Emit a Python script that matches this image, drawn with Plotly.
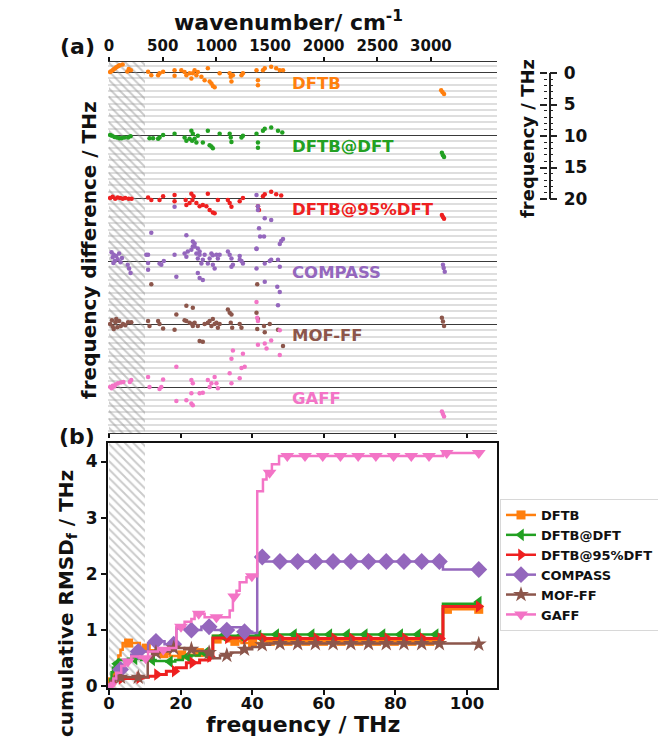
import numpy as np
import plotly.graph_objects as go

# the page keeps the browser's 8px body margin, so the figure is 16px smaller than the window
PAGE_W, PAGE_H = 666, 747
BODY_MARGIN = 8
W, H = PAGE_W - 2 * BODY_MARGIN, PAGE_H - 2 * BODY_MARGIN
FONT = "DejaVu Sans"
THZ_TO_CM = 33.356

METHODS = ["DFTB", "DFTB@DFT", "DFTB@95%DFT", "COMPASS", "MOF-FF", "GAFF"]
COLORS = ["#ff7f0e", "#22a022", "#ee2020", "#9467bd", "#8c564b", "#f374c6"]
SYMBOLS = ["square", "triangle-left", "triangle-right", "diamond", "star", "triangle-down"]
MSIZES = [9, 11, 11, 13, 12, 12]
OFFSET_STEP = 10          # THz between stacked baselines in panel (a)
HATCH_MAX = 10            # THz, hatched low-frequency region

# ---- panel (a): (frequency THz, frequency difference THz) per mode ----
DFTB_PTS = [(0.3, 0), (0.6, -0.15), (1.0, -0.3), (1.3, -0.45), (1.7, -0.6), (2.0, -0.75), (2.4, -0.9),
            (2.7, -1.0), (3.0, -1.1), (3.8, -1.2), (5.1, -0.1), (5.5, -0.5), (6.1, -0.3),
            (10.9, -0.05), (11.8, 0.5), (13.7, 0.5), (14.1, 0.2), (15.1, -0.05),
            (18.3, -0.3), (18.3, 0.6), (20.2, -0.3), (21.1, 0), (21.6, 0.5), (22.5, 0.2), (23.0, 1.0),
            (23.4, 0.2), (23.9, -0.3), (24.4, 0.5), (24.8, 0),
            (25.8, 0.75), (26.7, 1.3), (27.6, -0.6), (28.1, 1.5), (28.6, 1.8), (29.0, 2.2), (29.5, 2.4),
            (30.9, 0.2), (33.7, 0.2), (34.0, 0.75), (34.2, 1.5), (34.6, 0.5), (37.0, 0.5), (37.4, 0.2),
            (41.2, -0.3), (41.6, 1.3), (41.6, 2.1), (43.0, -0.3), (43.5, -0.6),
            (45.3, -0.85), (46.7, -0.6), (47.7, -0.3), (48.6, -0.3),
            (92.8, 2.9), (93.2, 3.2), (93.6, 3.5)]

DFTB_DFT_PTS = [(0.3, 0), (0.8, 0.1), (1.5, 0.3), (2.2, 0.4), (2.9, 0.5), (3.5, 0.5), (4.2, 0.4),
                (5.3, 0.4), (6.0, 0.2),
                (11.3, 0.5), (12.3, 0.5), (13.7, 0.6), (14.1, 0.4), (15.1, 0),
                (18.3, -0.2), (21.1, 0.4), (21.6, 0.9), (22.5, 0.6), (23.0, -0.7), (23.4, -0.2),
                (23.2, 0.9), (23.9, 0.6), (24.4, 1.2), (24.8, 0.1),
                (26.2, 1.2), (27.6, -0.7), (28.1, 1.6), (28.6, 1.8), (29.0, 2.1),
                (30.9, -0.2), (33.7, -0.2), (34.0, 0.4), (34.2, 1.1), (37.0, 0.4), (37.4, 0.1),
                (41.2, -0.2), (41.6, 1.2), (41.6, 2.0), (43.0, -0.7), (43.5, -1.0), (45.3, -1.2),
                (47.2, -0.7), (48.4, -0.4),
                (93.0, 2.8), (93.3, 3.2), (93.6, 3.5)]

DFTB_95_PTS = [(0.3, 0), (1.0, -0.2), (1.7, 0.1), (2.4, -0.1), (3.1, 0), (3.8, 0.1), (4.5, 0),
               (5.5, 0.1), (6.3, 0.1),
               (10.9, -0.1), (11.8, 0.3), (14.1, 0.3), (15.1, -0.3),
               (18.3, -0.5), (18.3, 0.5), (21.4, 0.3), (21.6, 1.1), (22.5, 0.8), (23.0, -0.7),
               (23.3, 0.3), (23.6, -0.3), (24.4, 0.8), (25.3, 1.3), (26.2, 1.1), (27.2, 1.3),
               (28.1, 1.9), (29.0, 2.3), (29.5, 2.4),
               (27.6, -0.7), (30.4, 0.3), (33.2, 0.3), (33.7, 0.8), (34.2, 1.4), (36.5, 0.5), (37.4, 0),
               (41.6, 1.3), (41.9, 1.9), (43.0, -0.3), (43.5, -0.6), (45.3, -1.0), (46.7, -0.6),
               (48.1, -0.4),
               (93.0, 2.7), (93.3, 3.0), (93.6, 3.3)]

COMPASS_PTS = [(0.7, -1.4), (1.0, -0.6), (1.3, -1.0), (1.6, 0.0), (2.0, -0.8), (2.4, -0.3),
               (2.8, -1.2), (3.2, 0.2), (3.6, -0.5), (1.2, 0.3),
               (5.2, 0.6), (5.6, 1.2), (6.0, 1.9),
               (10.9, -1.0), (10.9, 0.3), (10.9, 1.4), (10.4, -1.0), (11.8, -4.5),
               (14.1, 0.4), (14.6, 0.6), (15.3, 0.0),
               (18.3, -1.0), (18.8, 2.5), (18.3, -8.6),
               (21.1, -1.2), (21.6, -0.7), (22.0, -1.5), (23.0, -1.8), (23.4, -2.3), (23.9, -2.8),
               (24.4, -1.2), (24.8, -0.4), (25.3, -1.0), (25.8, 0.4), (26.2, -0.2), (26.7, -1.0),
               (24.8, 1.9), (25.3, 2.7), (26.2, 3.0), (21.6, -4.1), (23.4, -3.1), (23.9, -2.3),
               (24.8, -2.0), (25.3, -1.5),
               (27.6, 0.4), (28.1, -0.4), (28.6, -1.2), (29.0, 0.6), (29.5, 1.2), (30.0, -1.0),
               (30.4, -0.4), (30.9, -1.0), (29.0, -0.9),
               (33.2, -1.5), (33.7, -1.0), (34.2, -0.4), (34.2, 0.9), (34.6, 0.6), (36.5, -0.2),
               (37.0, 0.0), (37.4, 0.4), (36.5, -0.8),
               (41.2, -2.0), (41.2, 1.2), (43.5, 0.4), (43.5, 3.3), (44.9, 0.0), (45.3, -0.2),
               (47.2, -0.2), (47.7, 0.9), (47.0, 4.1), (47.7, 4.9), (47.2, 7.0),
               (41.2, -10.5), (41.6, -8.7), (41.6, -8.1), (43.5, -6.8), (45.3, -6.5), (41.9, -5.2),
               (42.2, -3.9), (43.3, -3.9), (48.1, -3.2), (47.7, -2.7), (48.6, -3.5), (41.2, -1.9),
               (93.3, 0.6), (93.5, 1.1), (93.8, 1.7)]

MOFFF_PTS = [(0.3, 0), (0.8, -0.6), (1.3, 0.8), (1.8, -0.3), (2.3, 0.5), (2.8, -0.5), (3.3, 0.3),
             (3.9, 0), (4.5, 0.2), (1.0, 0.4), (2.0, -0.8),
             (5.3, -0.3), (6.2, -0.3),
             (10.9, -0.5), (11.3, 0.3), (11.8, -6.3),
             (13.7, -0.5), (14.1, 0), (15.1, 0.7),
             (18.3, 0.9), (18.8, -1.5), (21.6, -2.9), (23.4, -2.6),
             (21.1, -0.6), (21.6, -0.5), (22.5, -0.2), (23.2, 0), (23.4, 0.3), (23.9, -0.2),
             (24.8, 0.3), (25.3, 2.7), (26.2, 2.8),
             (26.7, 0), (27.6, -0.2), (28.1, -0.5), (28.6, 0.3), (29.0, -0.8), (29.5, 0),
             (30.0, -0.2), (30.4, 0.6), (30.9, 0),
             (33.2, -2.3), (33.7, -1.8), (34.2, -1.5), (34.0, -0.2), (34.4, 0.6), (36.5, 0), (37.0, 0.6),
             (41.2, -1.8), (41.6, -0.8), (41.4, 0.8), (43.3, 0.3), (43.5, 1.3), (44.9, 0), (41.4, -6.3),
             (48.6, 3.5), (47.2, 0.9),
             (93.0, -1.0), (93.3, -0.4), (93.6, 0.3)]

GAFF_PTS = [(0.3, 0), (1.0, -0.2), (1.8, -0.4), (2.5, -0.6), (3.3, -0.7), (4.0, -0.8), (0.7, 0.2),
            (1.5, -0.1), (5.8, -0.8), (6.2, -1.1),
            (10.9, -1.6), (11.3, 0), (14.1, 0.3), (14.6, 0), (15.1, -1.2),
            (18.8, -3.2), (18.8, 2.2), (21.6, 2.1), (23.0, 2.6), (23.4, 2.9), (23.0, 1.0),
            (25.3, 1.0), (26.2, 0.9),
            (23.0, -1.1), (23.4, -0.6), (27.6, -1.1), (28.1, 0), (28.6, -0.6),
            (29.5, -1.6), (30.0, -0.6), (30.4, 0.2),
            (33.7, -2.2), (34.2, -0.6), (36.5, -1.4), (37.0, -3.0), (34.2, -4.5), (34.6, -5.8),
            (37.4, -5.3), (37.9, -3.2),
            (41.2, -13.5), (41.4, -11.0), (41.6, -10.5), (41.6, -6.7), (43.5, -6.9), (44.0, -6.1),
            (45.3, -7.4), (47.7, -9.0), (47.7, -5.1),
            (93.0, 3.9), (93.3, 4.3), (93.6, 4.7)]

POINTS = [DFTB_PTS, DFTB_DFT_PTS, DFTB_95_PTS, COMPASS_PTS, MOFFF_PTS, GAFF_PTS]

# ---- panel (b): cumulative RMSD step curves (breakpoints) ----
DFTB_CX = [0, 0.4, 0.9, 1.4, 2.0, 2.6, 3.2, 3.8, 8.6, 11.0, 14.0, 17.0, 20.0, 24.0, 29.0, 33.0, 37.0, 42.5, 93.3, 103.3]
DFTB_CY = [0, 0.08, 0.2, 0.3, 0.42, 0.55, 0.65, 0.77, 0.68, 0.64, 0.58, 0.54, 0.56, 0.6, 0.84, 0.8, 0.77, 0.8, 1.37, 1.37]
DFTB_DFT_CX = [0, 0.3, 0.7, 1.1, 1.6, 2.5, 5.3, 9.0, 13.0, 16.0, 18.5, 20.6, 23.0, 25.3, 27.0, 28.6, 29.0, 42.0, 93.3, 103.3]
DFTB_DFT_CY = [0, 0.12, 0.25, 0.33, 0.4, 0.47, 0.49, 0.47, 0.45, 0.44, 0.47, 0.53, 0.55, 0.59, 0.6, 0.62, 0.9, 0.92, 1.47, 1.5]
DFTB_95_CX = [0, 0.5, 1.6, 3.2, 7.0, 9.5, 11.0, 13.2, 16.0, 18.8, 21.6, 25.3, 28.1, 29.0, 42.0, 93.3, 103.3]
DFTB_95_CY = [0, 0.06, 0.12, 0.14, 0.15, 0.16, 0.18, 0.21, 0.27, 0.33, 0.42, 0.47, 0.53, 0.86, 0.85, 1.42, 1.42]
COMPASS_CX = [0, 0.5, 1.4, 3.0, 4.4, 6.2, 8.1, 10.9, 12.7, 15.5, 18.8, 22.0, 25.8, 29.5, 33.2, 37.0, 40.0, 41.4, 43.0, 93.3, 103.3]
COMPASS_CY = [0, 0.05, 0.12, 0.3, 0.47, 0.56, 0.62, 0.77, 0.8, 0.75, 1.03, 1.0, 1.06, 1.0, 1.05, 0.97, 0.95, 2.3, 2.22, 2.08, 2.08]
MOFFF_CX = [0, 0.6, 1.5, 10.8, 12.0, 14.0, 17.0, 21.0, 24.0, 27.0, 29.0, 31.0, 34.0, 37.0, 40.0, 42.0, 45.0, 103.3]
MOFFF_CY = [0, 0.1, 0.16, 0.5, 0.6, 0.62, 0.68, 0.66, 0.63, 0.6, 0.5, 0.55, 0.6, 0.66, 0.7, 0.74, 0.76, 0.75]
GAFF_CX = [0, 0.5, 1.2, 2.0, 3.4, 4.4, 6.2, 8.5, 10.9, 13.7, 16.9, 18.8, 21.1, 23.0, 23.9, 26.7, 33.7, 34.6,
           35.6, 36.5, 38.4, 39.8, 41.4, 43.0, 44.0, 45.5, 47.5, 93.3, 103.3]
GAFF_CY = [0, 0.06, 0.14, 0.24, 0.36, 0.44, 0.53, 0.5, 0.62, 0.65, 0.68, 1.06, 1.15, 1.2, 1.29, 1.23, 1.35, 1.6,
           1.7, 1.85, 1.94, 1.96, 3.47, 3.68, 3.8, 3.95, 4.1, 4.15, 4.15]
CURVES_X = [DFTB_CX, DFTB_DFT_CX, DFTB_95_CX, COMPASS_CX, MOFFF_CX, GAFF_CX]
CURVES_Y = [DFTB_CY, DFTB_DFT_CY, DFTB_95_CY, COMPASS_CY, MOFFF_CY, GAFF_CY]
MARK_START = [0.5, 2.15, 3.5, 3.2, 3.2, 0.3]   # first marker (markevery-like)
MARK_EVERY = 4.95

WAVE_TICKS = [0, 500, 1000, 1500, 2000, 2500, 3000]
FREQ_TICKS = [0, 20, 40, 60, 80, 100]
RMSD_TICKS = [0, 1, 2, 3, 4]
SCALE_TICKS = [0, 5, 10, 15, 20]

XR = [-0.3, 108.4]
YA_R = [57.3, -1.6]
YB_R = [-0.03, 4.33]


def px(x):
    """window pixel -> paper fraction"""
    return (x - BODY_MARGIN) / W


def py(y):
    return 1 - (y - BODY_MARGIN) / H


def font(size, color="#111"):
    return dict(family=FONT, size=size, color=color, weight="bold")


fig = go.Figure()

# hatched low-frequency regions
for xa, ya, rng in [("x2", "y2", YA_R), ("x", "y", YB_R)]:
    lo, hi = min(rng), max(rng)
    fig.add_trace(go.Bar(x=[HATCH_MAX / 2], y=[hi - lo], base=[lo], width=[HATCH_MAX],
                         xaxis=xa, yaxis=ya, showlegend=False, hoverinfo="skip",
                         marker=dict(color="rgba(0,0,0,0)", line=dict(width=0),
                                     pattern=dict(shape="\\", fgcolor="#959595", size=6, solidity=0.32))))

# panel (a) scatter
for i, pts in enumerate(POINTS):
    f = [p[0] for p in pts]
    d = [p[1] + i * OFFSET_STEP for p in pts]
    fig.add_trace(go.Scatter(x=f, y=d, mode="markers", xaxis="x2", yaxis="y2", showlegend=False,
                             marker=dict(color=COLORS[i], size=4.5, line=dict(width=0)),
                             hoverinfo="skip"))

# panel (b) curves
for i in range(len(METHODS)):
    cx = np.array(CURVES_X[i], dtype=float)
    cy = np.array(CURVES_Y[i], dtype=float)
    lw = 3 if i == 2 else 2.5
    fig.add_trace(go.Scatter(x=cx, y=cy, mode="lines", line=dict(color=COLORS[i], width=lw, shape="hv"),
                             showlegend=False, xaxis="x", yaxis="y", hoverinfo="skip"))
    mx = list(np.arange(MARK_START[i], 95, MARK_EVERY)) + [cx[-1]]
    idx = np.clip(np.searchsorted(cx, mx, side="right") - 1, 0, len(cy) - 1)
    my = cy[idx]
    fig.add_trace(go.Scatter(x=mx, y=my, mode="markers", showlegend=False, xaxis="x", yaxis="y",
                             marker=dict(color=COLORS[i], symbol=SYMBOLS[i], size=MSIZES[i], line=dict(width=0)),
                             hoverinfo="skip"))

# legend entries
for i, m in enumerate(METHODS):
    fig.add_trace(go.Scatter(x=[None], y=[None], mode="lines+markers", name=m, xaxis="x", yaxis="y",
                             line=dict(color=COLORS[i], width=2.5),
                             marker=dict(color=COLORS[i], symbol=SYMBOLS[i], size=MSIZES[i], line=dict(width=0))))

# dummy traces so that helper axes exist
fig.add_trace(go.Scatter(x=[None], y=[None], xaxis="x3", yaxis="y2", showlegend=False, hoverinfo="skip"))
fig.add_trace(go.Scatter(x=[None], y=[None], xaxis="x4", yaxis="y3", showlegend=False, hoverinfo="skip"))
fig.add_trace(go.Scatter(x=[None], y=[None], xaxis="x4", yaxis="y4", showlegend=False, hoverinfo="skip"))

XDOM = [px(108), px(497)]
tick_common = dict(ticks="outside", tickcolor="#111", tickwidth=1.5)

fig.update_layout(
    width=W, height=H, margin=dict(l=0, r=0, t=0, b=0, autoexpand=False),
    paper_bgcolor="white", plot_bgcolor="rgba(0,0,0,0)",
    barmode="overlay", bargap=0,
    xaxis=dict(domain=XDOM, anchor="y", range=XR, tickvals=FREQ_TICKS, ticklen=5, tickfont=font(16.5),
               ticklabelstandoff=-6,
               showline=True, linewidth=2, linecolor="#111", mirror=True, showgrid=False, zeroline=False,
               automargin=False, **tick_common),
    yaxis=dict(domain=[py(688), py(443)], anchor="x", range=YB_R, tickvals=RMSD_TICKS, ticklen=5,
               tickfont=font(17), showline=True, linewidth=2, linecolor="#111", mirror=True,
               showgrid=False, zeroline=False, automargin=False, **tick_common),
    xaxis2=dict(domain=XDOM, anchor="y2", range=XR, tickvals=FREQ_TICKS, ticklen=4, showticklabels=False,
                showline=True, linewidth=1.3, linecolor="#333", mirror=True, showgrid=False, zeroline=False,
                automargin=False, **tick_common),
    yaxis2=dict(domain=[py(433), py(62)], anchor="x2", range=YA_R, tick0=0, dtick=OFFSET_STEP,
                showticklabels=False, ticks="", showgrid=True, gridcolor="#3a3a3a", gridwidth=1.3,
                zeroline=False, showline=False, automargin=False,
                minor=dict(dtick=1, showgrid=True, gridcolor="#dedede", gridwidth=1.6)),
    xaxis3=dict(overlaying="x2", anchor="y2", side="top", range=[XR[0] * THZ_TO_CM, XR[1] * THZ_TO_CM],
                tickvals=WAVE_TICKS, ticklen=4, tickfont=font(15), showline=False, showgrid=False,
                zeroline=False, automargin=False, **tick_common),
    xaxis4=dict(domain=[px(548), px(548.6)], anchor="y3", range=[0, 1], visible=False),
    yaxis3=dict(domain=[py(199), py(73)], anchor="x4", side="right", range=[20, 0], tickvals=SCALE_TICKS,
                ticks="outside", ticklen=7, tickwidth=1.5, tickcolor="#222", tickfont=font(17),
                ticklabelstandoff=3, automargin=False,
                minor=dict(dtick=1, ticks="outside", ticklen=3, tickwidth=1, tickcolor="#222"),
                showline=True, linewidth=1.5, linecolor="#222", showgrid=False, zeroline=False),
    yaxis4=dict(overlaying="y3", anchor="x4", side="left", range=[20, 0], tickvals=SCALE_TICKS,
                ticks="outside", ticklen=7, tickwidth=1.5, tickcolor="#222", showticklabels=False,
                automargin=False,
                minor=dict(dtick=1, ticks="outside", ticklen=3, tickwidth=1, tickcolor="#222"),
                showline=False, showgrid=False, zeroline=False),
    legend=dict(x=px(500), y=py(499), xanchor="left", yanchor="top", font=font(13),
                bgcolor="rgba(255,255,255,0.9)", bordercolor="#d8d8d8", borderwidth=1,
                tracegroupgap=0),
    showlegend=True,
)

ann = []
for i, m in enumerate(METHODS):
    ann.append(dict(x=50.5, y=i * OFFSET_STEP + 1.75, xref="x2", yref="y2", text=m, showarrow=False,
                    xanchor="left", yanchor="middle", font=font(16.5, COLORS[i])))


def txt(x, y, t, size, angle=0):
    return dict(x=px(x), y=py(y), xref="paper", yref="paper", text=t, showarrow=False,
                xanchor="center", yanchor="middle", textangle=angle, font=font(size))


ann += [
    txt(77, 46, "(a)", 22),
    txt(77, 436, "(b)", 22),
    txt(288, 21, "wavenumber/ cm<sup>-1</sup>", 22),
    txt(89, 250, "frequency difference / THz", 20, -90),
    txt(67, 604, "cumulative RMSD<sub>f</sub> / THz", 20, -90),
    txt(303, 724.5, "frequency / THz", 22),
    txt(527, 139, "frequency / THz", 18, -90),
]
fig.update_layout(annotations=ann)

fig.write_html("out.html", config={"displayModeBar": False})
